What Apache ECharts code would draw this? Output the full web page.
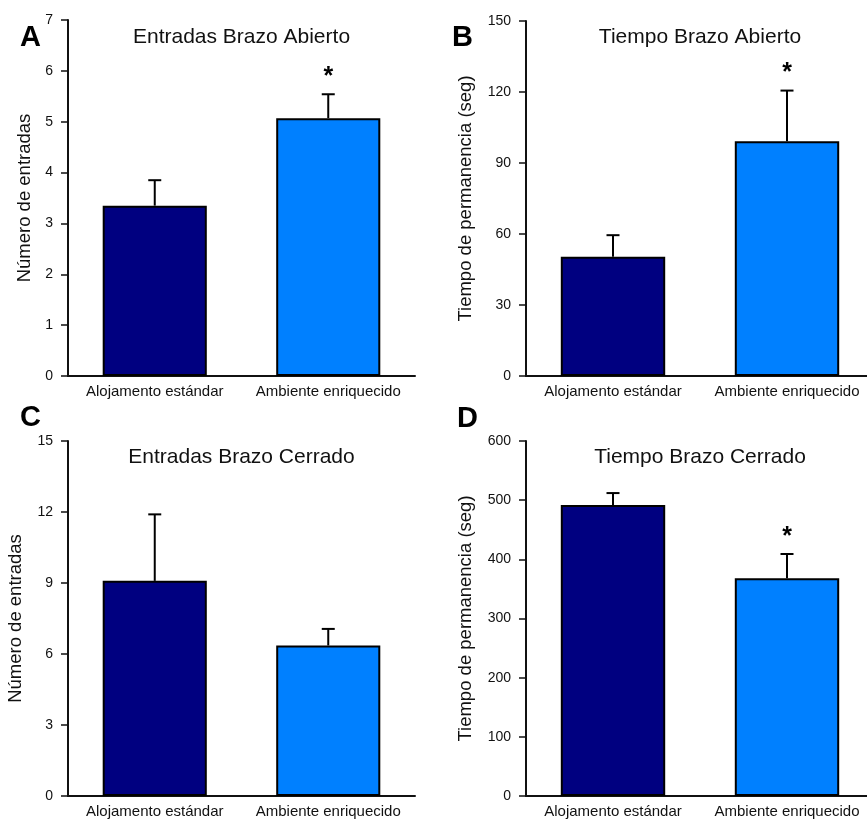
<!DOCTYPE html>
<html>
<head>
<meta charset="utf-8">
<script src="https://cdn.jsdelivr.net/npm/echarts@6/dist/echarts.min.js"></script>
<style>
html,body{margin:0;padding:0;background:#fff;}
#chart{width:867px;height:820px;}
</style>
</head>
<body>
<div id="chart"></div>
<script>
// ---- data ----
const categories = ['Alojamento estándar', 'Ambiente enriquecido'];
const panelLetters = ['A', 'B', 'C', 'D'];
const panelTitles = ['Entradas Brazo Abierto', 'Tiempo Brazo Abierto', 'Entradas Brazo Cerrado', 'Tiempo Brazo Cerrado'];
const yAxisNames = ['Número de entradas', 'Tiempo de permanencia (seg)', 'Número de entradas', 'Tiempo de permanencia (seg)'];
const yMax = [7, 150, 15, 600];
const yInterval = [1, 30, 3, 100];

const meansA = [3.35, 5.07];
const errA = [0.50, 0.47];
const sigA = ['', '*'];

const meansB = [50.4, 99.2];
const errB = [9.1, 21.4];
const sigB = ['', '*'];

const meansC = [9.09, 6.36];
const errC = [2.81, 0.70];
const sigC = ['', ''];

const meansD = [492, 368];
const errD = [20, 41];
const sigD = ['', '*'];

const barColors = ['#000080', '#0080FF'];

// ---- layout ----
const gridsLayout = [
  {left: 68, top: 20, width: 347, height: 356},
  {left: 526, top: 21, width: 348, height: 355},
  {left: 68, top: 441, width: 347, height: 355},
  {left: 526, top: 441, width: 348, height: 355}
];
const nameGaps = [34, 51, 43, 51];
const titlePos = [[241.5, 37], [700, 37], [241.5, 457], [700, 457]];
const letterPos = [[20, 38], [452, 38], [20, 418], [457, 419]];

const allMeans = [meansA, meansB, meansC, meansD];
const allErrs = [errA, errB, errC, errD];
const allSig = [sigA, sigB, sigC, sigD];

const FONT = '"Liberation Sans", Arial, sans-serif';

const grid = [], xAxis = [], yAxis = [], series = [], graphic = [];

for (let k = 0; k < 4; k++) {
  const g = gridsLayout[k];
  grid.push(Object.assign({containLabel: false, outerBoundsMode: 'none'}, g));
  xAxis.push({
    type: 'category', gridIndex: k, data: categories,
    axisLine: {show: true, lineStyle: {color: '#111', width: 2}},
    axisTick: {show: false},
    axisLabel: {color: '#111', fontSize: 15, fontFamily: FONT, margin: 8, interval: 0},
    splitLine: {show: false}
  });
  yAxis.push({
    type: 'value', gridIndex: k, min: 0, max: yMax[k], interval: yInterval[k],
    name: yAxisNames[k], nameLocation: 'middle', nameGap: nameGaps[k],
    nameTextStyle: {color: '#111', fontSize: 18.5, fontFamily: FONT},
    axisLine: {show: true, lineStyle: {color: '#111', width: 2}},
    axisTick: {show: true, length: 7, lineStyle: {color: '#111', width: 1.5}},
    axisLabel: {color: '#111', fontSize: 14, fontFamily: FONT, margin: 15},
    splitLine: {show: false}
  });
  series.push({
    type: 'bar', xAxisIndex: k, yAxisIndex: k, barWidth: '60%',
    data: allMeans[k].map((v, i) => ({value: v, itemStyle: {color: barColors[i]}})),
    itemStyle: {borderColor: '#000', borderWidth: 2},
    silent: true, z: 2
  });
  const sig = allSig[k];
  series.push({
    type: 'custom', xAxisIndex: k, yAxisIndex: k, silent: true, z: 1,
    data: allMeans[k].map((m, i) => [i, m, allErrs[k][i]]),
    renderItem: function (params, api) {
      const idx = api.value(0), m = api.value(1), e = api.value(2);
      const p0 = api.coord([idx, m]);
      const p1 = api.coord([idx, m + e]);
      const children = [
        {type: 'line', shape: {x1: p0[0], y1: p0[1], x2: p1[0], y2: p1[1]}, style: {stroke: '#000', lineWidth: 2}},
        {type: 'line', shape: {x1: p1[0] - 6.5, y1: p1[1], x2: p1[0] + 6.5, y2: p1[1]}, style: {stroke: '#000', lineWidth: 2}}
      ];
      if (sig[idx]) {
        children.push({type: 'text', style: {text: sig[idx], x: p1[0], y: p1[1] - 17, textAlign: 'center', textVerticalAlign: 'middle', fontSize: 25, fontWeight: 'bold', fontFamily: FONT, fill: '#000'}});
      }
      return {type: 'group', children: children};
    }
  });
  graphic.push({type: 'text', x: titlePos[k][0], y: titlePos[k][1], style: {text: panelTitles[k], textAlign: 'center', textVerticalAlign: 'middle', fontSize: 21, fontFamily: FONT, fill: '#111'}});
  graphic.push({type: 'text', x: letterPos[k][0], y: letterPos[k][1], style: {text: panelLetters[k], textAlign: 'left', textVerticalAlign: 'middle', fontSize: 29, fontWeight: 'bold', fontFamily: FONT, fill: '#000'}});
}

const chart = echarts.init(document.getElementById('chart'), null, {renderer: 'canvas'});
chart.setOption({
  animation: false,
  backgroundColor: '#fff',
  grid: grid, xAxis: xAxis, yAxis: yAxis, series: series, graphic: graphic
});
</script>
</body>
</html>
